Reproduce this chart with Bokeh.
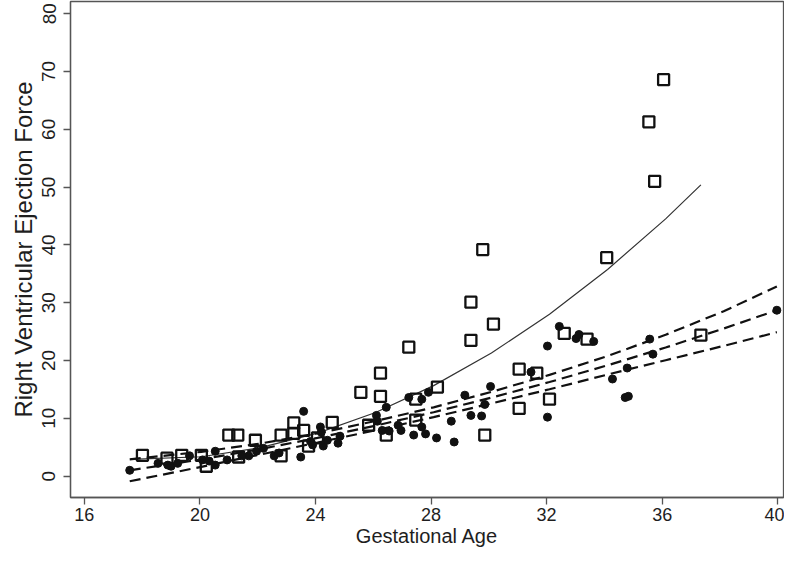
from bokeh.plotting import figure
from bokeh.models import ColumnDataSource, FixedTicker, Range1d
from bokeh.embed import file_html
from bokeh.resources import INLINE

# ---- data ----
# open squares (group 1)
sq_ga = [18.01, 18.86, 19.37, 20.05, 20.22, 21.00, 21.31, 21.34, 21.92, 22.81,
         22.81, 23.25, 23.25, 23.59, 23.76, 24.07, 24.58, 25.57, 25.84, 26.25,
         26.25, 26.45, 27.23, 27.47, 27.47, 28.22, 29.38, 29.38, 29.79, 29.86,
         30.16, 31.05, 31.05, 31.66, 32.10, 32.61, 33.40, 34.08, 35.54, 35.74,
         36.05, 37.34]
sq_force = [3.6, 3.1, 3.6, 3.6, 1.7, 7.1, 7.1, 3.3, 6.2, 7.1,
            3.5, 9.2, 7.4, 7.9, 5.2, 6.6, 9.3, 14.5, 8.8, 17.8,
            13.8, 7.1, 22.3, 13.3, 9.7, 15.4, 30.1, 23.5, 39.2, 7.1,
            26.3, 18.5, 11.7, 17.8, 13.3, 24.7, 23.7, 37.8, 61.3, 51.0,
            68.6, 24.4]

# filled dots (group 2)
dot_ga = [17.57, 18.55, 18.89, 19.00, 19.23, 19.64, 20.09, 20.32, 20.53, 20.53,
          20.94, 21.45, 21.69, 21.96, 22.20, 22.57, 22.74, 23.49, 23.59, 23.83,
          23.90, 24.17, 24.20, 24.27, 24.41, 24.78, 24.85, 26.11, 26.14, 26.31,
          26.45, 26.55, 26.86, 26.96, 27.23, 27.40, 27.68, 27.68, 27.81, 27.91,
          28.19, 28.70, 28.80, 29.17, 29.38, 29.75, 29.86, 30.06, 31.46, 32.03,
          32.03, 32.44, 33.02, 33.12, 33.63, 34.28, 34.72, 34.83, 34.79, 35.57,
          35.68, 39.97]
dot_force = [1.0, 2.2, 1.9, 1.7, 2.2, 3.5, 2.8, 2.6, 4.3, 1.9,
             2.8, 3.5, 3.5, 4.3, 4.8, 3.5, 4.0, 3.3, 11.2, 6.0,
             5.4, 8.5, 7.6, 5.2, 6.2, 5.7, 6.9, 10.5, 9.5, 7.9,
             11.9, 7.8, 8.8, 7.9, 13.6, 7.1, 13.3, 8.5, 7.3, 14.5,
             6.6, 9.5, 5.9, 14.0, 10.5, 10.4, 12.4, 15.5, 18.0, 22.5,
             10.2, 25.9, 23.8, 24.5, 23.3, 16.8, 13.6, 13.8, 18.7, 23.7,
             21.1, 28.7]

# fitted curve for the squares (solid)
curve_ga = [17.60, 20.05, 22.06, 24.07, 26.08, 28.09, 30.09, 32.10, 34.11, 36.12, 37.34]
curve_force = [2.9, 3.35, 4.87, 7.43, 11.0, 15.65, 21.3, 28.0, 35.76, 44.5, 50.4]

# fitted line with its band for the dots (dashed)
fit_ga = [17.57, 20.05, 22.06, 24.07, 26.08, 28.09, 30.09, 32.10, 34.11, 36.12, 38.13, 39.97]
fit_mid = [1.0, 2.9, 4.65, 6.6, 8.73, 11.05, 13.57, 16.27, 19.17, 22.25, 25.53, 28.7]
fit_lo = [-0.9, 1.6, 3.7, 5.8, 7.93, 10.2, 12.57, 15.02, 17.57, 20.05, 22.53, 24.9]
fit_hi = [2.9, 4.2, 5.6, 7.4, 9.53, 11.9, 14.57, 17.52, 20.77, 24.45, 28.53, 32.8]

x_ticks = [16, 20, 24, 28, 32, 36, 40]
y_ticks = [0, 10, 20, 30, 40, 50, 60, 70, 80]

FONT = "Liberation Sans"
TXT = "#1e1e1e"
FRAME = "#555555"

p = figure(width=784, height=549, output_backend="svg", toolbar_location=None,
           x_range=Range1d(15.52, 40.20), y_range=Range1d(-3.705, 82.12),
           min_border_left=70, min_border_right=1, min_border_top=1,
           min_border_bottom=50)

p.background_fill_color = "white"
p.border_fill_color = "white"
p.grid.visible = False
p.outline_line_color = FRAME
p.outline_line_width = 1.3

src_sq = ColumnDataSource(dict(x=sq_ga, y=sq_force))
src_dot = ColumnDataSource(dict(x=dot_ga, y=dot_force))

p.line(curve_ga, curve_force, line_color="#333333", line_width=1.2)
for ys in (fit_hi, fit_mid, fit_lo):
    p.line(fit_ga, ys, line_color="#111111", line_width=2.2, line_dash="11 6")

p.scatter("x", "y", source=src_dot, marker="circle", size=8,
          fill_color="#111111", line_color="#111111")
p.scatter("x", "y", source=src_sq, marker="square", size=11,
          fill_color=None, line_color="#111111", line_width=2.3)

p.xaxis.ticker = FixedTicker(ticks=x_ticks)
p.yaxis.ticker = FixedTicker(ticks=y_ticks)
p.xaxis.axis_label = "Gestational Age"
p.yaxis.axis_label = "Right Ventricular Ejection Force"

for ax in (p.xaxis[0], p.yaxis[0]):
    ax.axis_line_color = FRAME
    ax.axis_line_width = 1.3
    ax.major_tick_line_color = FRAME
    ax.major_tick_line_width = 1.3
    ax.major_tick_out = 7
    ax.major_tick_in = 0
    ax.minor_tick_line_color = None
    ax.major_label_text_font = FONT
    ax.major_label_text_color = TXT
    ax.axis_label_text_font = FONT
    ax.axis_label_text_font_style = "normal"
    ax.axis_label_text_color = TXT

p.xaxis.major_label_text_font_size = "18px"
p.xaxis.axis_label_text_font_size = "20px"
p.xaxis.major_label_standoff = 3
p.xaxis.axis_label_standoff = 1

p.yaxis.major_label_text_font_size = "19px"
p.yaxis.axis_label_text_font_size = "24px"
p.yaxis.major_label_orientation = "parallel"
p.yaxis.major_label_standoff = 8
p.yaxis.axis_label_standoff = 3

open("out.html", "w").write(file_html(p, INLINE))
